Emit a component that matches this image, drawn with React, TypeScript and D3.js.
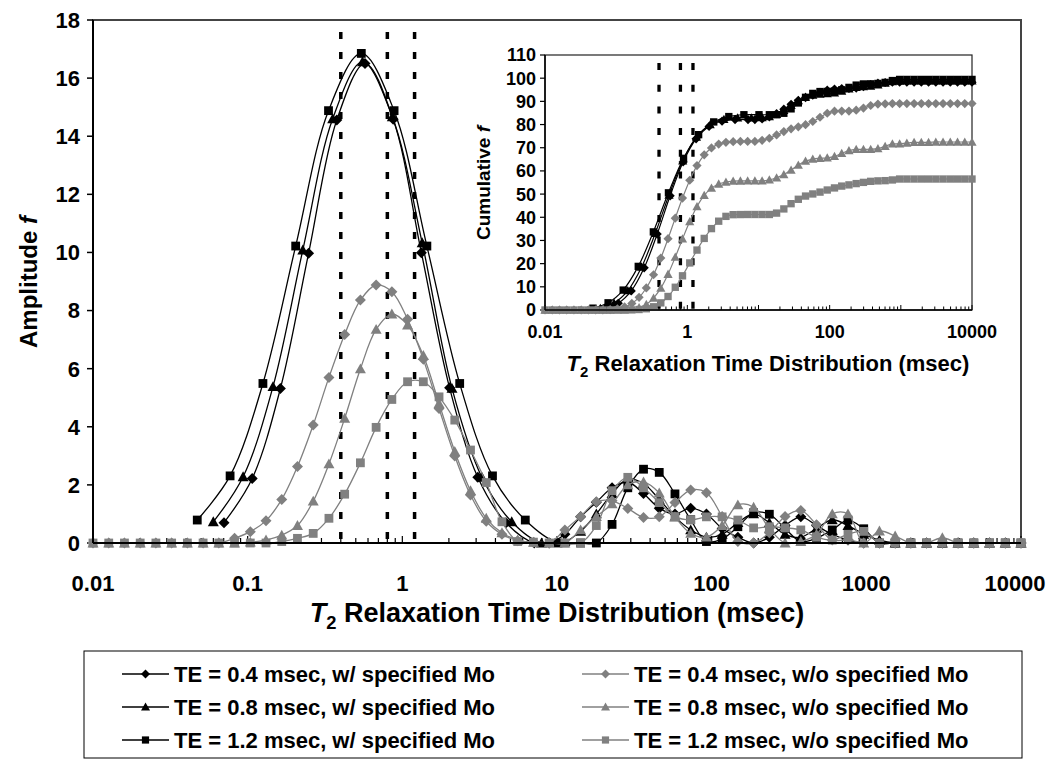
import React from 'react';
import * as d3 from 'd3';

// ---------- DATA ----------
// Common log-spaced T2 grid (msec), 60 bins from 0.01 to 10000
const T_GRID = [0.01, 0.01264, 0.01597, 0.02019, 0.02551, 0.03225, 0.04075, 0.05151, 0.0651, 0.08228,
  0.104, 0.1314, 0.1661, 0.2099, 0.2653, 0.3353, 0.4238, 0.5356, 0.6769, 0.8555,
  1.081, 1.367, 1.727, 2.183, 2.759, 3.487, 4.407, 5.57, 7.04, 8.897,
  11.24, 14.21, 17.96, 22.7, 28.69, 36.26, 45.82, 57.91, 73.19, 92.5,
  116.9, 147.7, 186.7, 236, 298.3, 377, 476.4, 602.1, 761, 961.8,
  1215, 1536, 1941, 2454, 3101, 3919, 4953, 6260, 7912, 10000];

// w/o specified Mo (gray), values on T_GRID
const GRAY_DIAMOND = [0, 0, 0, 0, 0, 0, 0, 0, 0,
  0.16, 0.39, 0.77, 1.5, 2.63, 4.06, 5.7, 7.18, 8.36, 8.88,
  8.65, 7.7, 6.32, 4.63, 2.99, 1.65, 0.75, 0.3, 0.08, 0.03,
  0, 0.45, 0.91, 1.42, 1.45, 1.19, 0.88, 0.9, 1.39, 1.82,
  1.73, 0.91, 0.05, 0, 0.35, 0.91, 1.12, 0.63, 0.1, 0.11,
  0, 0, 0, 0, 0, 0, 0, 0, 0, 0, 0];
const GRAY_TRIANGLE = [0, 0, 0, 0, 0, 0, 0, 0, 0, 0,
  0.03, 0.1, 0.27, 0.6, 1.44, 2.72, 4.29, 5.99, 7.35, 7.88,
  7.5, 6.45, 4.8, 3.15, 1.8, 0.85, 0.35, 0.1, 0.02, 0,
  0, 0.45, 0.91, 1.35, 2.0, 2.1, 1.72, 0.9, 0.33, 0.2,
  0.6, 1.31, 1.23, 0.5, 0, 0.05, 0.3, 1.0, 1.0, 0,
  0.41, 0.24, 0, 0, 0.18, 0, 0, 0, 0, 0];
const GRAY_SQUARE = [0, 0, 0, 0, 0, 0, 0, 0, 0, 0, 0, 0,
  0.05, 0.16, 0.33, 0.85, 1.68, 2.76, 3.98, 4.94,
  5.55, 5.55, 5.03, 4.23, 3.2, 2.08, 0.73, 0.05, 0.03, 0,
  0, 0, 0.6, 1.8, 2.26, 1.9, 1.39, 0.91, 0.8, 0.9,
  0.9, 0.79, 0.52, 0.56, 0.52, 0.45, 0.2, 0.1, 0.3, 0.4,
  0, 0, 0, 0, 0, 0, 0, 0, 0, 0];

// w/ specified Mo (black): main peak on their own T2 points, then the tail on T_GRID
const BLACK_DIAMOND_T = [0.0703, 0.107, 0.1628, 0.2477, 0.377, 0.5737, 0.8727, 1.328, 2.021, 3.075, 4.68, 7.12];
const BLACK_DIAMOND_V = [0.7, 2.22, 5.32, 9.97, 14.56, 16.5, 14.58, 9.99, 5.34, 2.26, 0.7, 0];
const BLACK_DIAMOND_TAIL_START = 29;
const BLACK_DIAMOND_TAIL = [0, 0.3, 0.9, 1.4, 1.9, 2.1, 1.7, 1.2, 1.0, 1.2,
  1.0, 0.5, 0.2, 0, 0.2, 0.6, 0.9, 0.6, 0.3, 0.1,
  0, 0, 0, 0, 0, 0, 0, 0, 0, 0, 0];

const BLACK_TRIANGLE_T = [0.05995, 0.09344, 0.1458, 0.2272, 0.3546, 0.5527, 0.8612, 1.344, 2.095, 3.268, 5.095, 7.938];
const BLACK_TRIANGLE_V = [0.73, 2.28, 5.38, 10.08, 14.6, 16.56, 14.67, 10.33, 5.32, 2.26, 0.73, 0];
const BLACK_TRIANGLE_TAIL_START = 30;
const BLACK_TRIANGLE_TAIL = [0.05, 0.4, 1.0, 1.7, 2.2, 2.05, 1.5, 0.9, 0.45, 0.2,
  0.3, 0.7, 1.0, 0.7, 0.3, 0.2, 0.5, 0.8, 0.6, 0.3,
  0.1, 0, 0, 0, 0, 0, 0, 0, 0, 0];

const BLACK_SQUARE_T = [0.04722, 0.07699, 0.1255, 0.2044, 0.3332, 0.543, 0.8845, 1.441, 2.349, 3.827, 6.237, 10.16];
const BLACK_SQUARE_V = [0.79, 2.31, 5.49, 10.22, 14.88, 16.85, 14.88, 10.22, 5.49, 2.31, 0.79, 0];
const BLACK_SQUARE_TAIL_START = 31;
const BLACK_SQUARE_TAIL = [0, 0, 0.64, 1.9, 2.54, 2.43, 1.69, 0.8, 0.05, 0.14,
  0.56, 1.04, 0.99, 0.5, 0.05, 0.17, 0.45, 0.79, 0.49,
  0, 0, 0, 0, 0, 0, 0, 0, 0, 0];

const TE_LINES = [0.4, 0.8, 1.2];

const MAIN_X_TICKS = [0.01, 0.1, 1, 10, 100, 1000, 10000];
const MAIN_X_LABELS = ['0.01', '0.1', '1', '10', '100', '1000', '10000'];
const MAIN_Y_TICKS = [0, 2, 4, 6, 8, 10, 12, 14, 16, 18];
const INSET_X_TICKS = [0.01, 1, 100, 10000];
const INSET_X_LABELS = ['0.01', '1', '100', '10000'];
const INSET_Y_TICKS = [0, 10, 20, 30, 40, 50, 60, 70, 80, 90, 100, 110];

const LEGEND_LABELS = [
  'TE = 0.4 msec, w/ specified Mo',
  'TE = 0.8 msec, w/ specified Mo',
  'TE = 1.2 msec, w/ specified Mo',
  'TE = 0.4 msec, w/o specified Mo',
  'TE = 0.8 msec, w/o specified Mo',
  'TE = 1.2 msec, w/o specified Mo',
];

// ---------- SETUP ----------
type Marker = 'diamond' | 'triangle' | 'square';
type Series = { t: number[]; v: number[]; color: string; marker: Marker; label: string };

const BLACK = '#000000';
const GRAY = '#808080';
const FONT = '"Liberation Sans", Arial, Helvetica, sans-serif';

const SERIES: Series[] = [
  { t: [...BLACK_DIAMOND_T, ...T_GRID.slice(BLACK_DIAMOND_TAIL_START)], v: [...BLACK_DIAMOND_V, ...BLACK_DIAMOND_TAIL], color: BLACK, marker: 'diamond', label: LEGEND_LABELS[0] },
  { t: [...BLACK_TRIANGLE_T, ...T_GRID.slice(BLACK_TRIANGLE_TAIL_START)], v: [...BLACK_TRIANGLE_V, ...BLACK_TRIANGLE_TAIL], color: BLACK, marker: 'triangle', label: LEGEND_LABELS[1] },
  { t: [...BLACK_SQUARE_T, ...T_GRID.slice(BLACK_SQUARE_TAIL_START)], v: [...BLACK_SQUARE_V, ...BLACK_SQUARE_TAIL], color: BLACK, marker: 'square', label: LEGEND_LABELS[2] },
  { t: T_GRID, v: GRAY_DIAMOND, color: GRAY, marker: 'diamond', label: LEGEND_LABELS[3] },
  { t: T_GRID, v: GRAY_TRIANGLE, color: GRAY, marker: 'triangle', label: LEGEND_LABELS[4] },
  { t: T_GRID, v: GRAY_SQUARE, color: GRAY, marker: 'square', label: LEGEND_LABELS[5] },
];

function markerPath(m: Marker, s: number): string {
  if (m === 'diamond') return `M0,${-s}L${s},0L0,${s}L${-s},0Z`;
  if (m === 'triangle') return `M0,${-s}L${s},${s * 0.8}L${-s},${s * 0.8}Z`;
  const q = s * 0.8;
  return `M${-q},${-q}H${q}V${q}H${-q}Z`;
}

const MAIN = { left: 93, right: 1021, top: 20, bottom: 543 };
const INSET = { left: 545, right: 972, top: 55, bottom: 310 };

const x = d3.scaleLog().domain([0.01, 10000]).range([MAIN.left, MAIN.right]);
const y = d3.scaleLinear().domain([0, 18]).range([MAIN.bottom, MAIN.top]);
const xi = d3.scaleLog().domain([0.01, 10000]).range([INSET.left, INSET.right]);
const yi = d3.scaleLinear().domain([0, 110]).range([INSET.bottom, INSET.top]);

const isDecade = (v: number) => Math.abs(Math.log10(v) - Math.round(Math.log10(v))) < 1e-6;

function SeriesLayer({ sx, sy, cumulative, size }: { sx: any; sy: any; cumulative: boolean; size: number }) {
  return (
    <g>
      {SERIES.map((s, si) => {
        const vals = cumulative ? Array.from(d3.cumsum(s.v)) : s.v;
        const pts = s.t.map((t, i) => [t, vals[i]] as [number, number]);
        const line = d3.line<[number, number]>()
          .x(d => sx(d[0]))
          .y(d => sy(d[1]))
          .curve(d3.curveCatmullRom.alpha(0.5));
        const mp = markerPath(s.marker, size);
        return (
          <g key={si}>
            <path d={line(pts) || ''} fill="none" stroke={s.color} strokeWidth={cumulative ? 1.2 : 1.3} />
            {pts.map((p, i) => (
              <path key={i} d={mp} transform={`translate(${sx(p[0])},${sy(p[1])})`} fill={s.color} />
            ))}
          </g>
        );
      })}
    </g>
  );
}

function T2Title({ cx, cy, size }: { cx: number; cy: number; size: number }) {
  return (
    <text x={cx} y={cy} textAnchor="middle" fontFamily={FONT} fontWeight="bold" fontSize={size}>
      <tspan fontStyle="italic">T</tspan>
      <tspan fontSize={size * 0.68} dy={size * 0.25}>2</tspan>
      <tspan dy={-size * 0.25}> Relaxation Time Distribution (msec)</tspan>
    </text>
  );
}

export default function App() {
  const mainTicks = x.ticks();
  const insetTicks = xi.ticks();
  return (
    <svg width={1051} height={759} style={{ position: 'absolute', left: 0, top: 0, background: '#fff' }}>
      <rect x={0} y={0} width={1051} height={759} fill="#fff" />

      {/* main plot frame */}
      <rect x={MAIN.left} y={MAIN.top} width={MAIN.right - MAIN.left} height={MAIN.bottom - MAIN.top}
        fill="none" stroke="#444" strokeWidth={2} />

      {/* TE dashed lines */}
      {TE_LINES.map((te, i) => (
        <line key={i} x1={x(te)} x2={x(te)} y1={32} y2={MAIN.bottom} stroke={BLACK} strokeWidth={3.5} strokeDasharray="7,13" />
      ))}

      {/* main x ticks (inward) */}
      {mainTicks.map((t, i) => (
        <line key={i} x1={x(t)} x2={x(t)} y1={MAIN.bottom} y2={MAIN.bottom - (isDecade(t) ? 7 : 5)} stroke={BLACK} strokeWidth={1.2} />
      ))}
      {/* main y ticks (outward) */}
      {MAIN_Y_TICKS.map((t, i) => (
        <line key={i} x1={MAIN.left - 6} x2={MAIN.left} y1={y(t)} y2={y(t)} stroke={BLACK} strokeWidth={1.5} />
      ))}

      <SeriesLayer sx={x} sy={y} cumulative={false} size={5.5} />

      {/* axes lines */}
      <line x1={MAIN.left} x2={MAIN.left} y1={MAIN.top} y2={MAIN.bottom} stroke={BLACK} strokeWidth={2} />
      <line x1={MAIN.left} x2={MAIN.right} y1={MAIN.bottom} y2={MAIN.bottom} stroke={BLACK} strokeWidth={2} />

      {/* main tick labels */}
      {MAIN_Y_TICKS.map((t, i) => (
        <text key={i} x={80} y={y(t)} dy="0.36em" textAnchor="end" fontFamily={FONT} fontWeight="bold" fontSize={22}>{t}</text>
      ))}
      {MAIN_X_TICKS.map((t, i) => (
        <text key={i} x={i === MAIN_X_TICKS.length - 1 ? x(t) - 6 : x(t)} y={591} textAnchor="middle" fontFamily={FONT} fontWeight="bold" fontSize={22}>{MAIN_X_LABELS[i]}</text>
      ))}
      <T2Title cx={557} cy={622} size={27} />
      <text transform="translate(37,282) rotate(-90)" textAnchor="middle" fontFamily={FONT} fontWeight="bold" fontSize={24}>
        Amplitude <tspan fontStyle="italic">f</tspan>
      </text>

      {/* ---------- inset ---------- */}
      <rect x={INSET.left} y={INSET.top} width={INSET.right - INSET.left} height={INSET.bottom - INSET.top}
        fill="#fff" stroke="#222" strokeWidth={1.2} />
      {TE_LINES.map((te, i) => (
        <line key={i} x1={xi(te)} x2={xi(te)} y1={63} y2={INSET.bottom} stroke={BLACK} strokeWidth={3.3} strokeDasharray="7,14.7" />
      ))}
      {insetTicks.map((t, i) => (
        <line key={i} x1={xi(t)} x2={xi(t)} y1={INSET.bottom} y2={INSET.bottom - (isDecade(t) ? 5 : 3.5)} stroke={BLACK} strokeWidth={1} />
      ))}
      {INSET_Y_TICKS.map((t, i) => (
        <line key={i} x1={INSET.left - 5} x2={INSET.left} y1={yi(t)} y2={yi(t)} stroke={BLACK} strokeWidth={1.2} />
      ))}
      <SeriesLayer sx={xi} sy={yi} cumulative={true} size={4.6} />
      <line x1={INSET.left} x2={INSET.left} y1={INSET.top} y2={INSET.bottom} stroke={BLACK} strokeWidth={1.5} />
      <line x1={INSET.left} x2={INSET.right} y1={INSET.bottom} y2={INSET.bottom} stroke={BLACK} strokeWidth={1.5} />
      {INSET_Y_TICKS.map((t, i) => (
        <text key={i} x={536} y={yi(t)} dy="0.36em" textAnchor="end" fontFamily={FONT} fontWeight="bold" fontSize={18}>{t}</text>
      ))}
      {INSET_X_TICKS.map((t, i) => (
        <text key={i} x={xi(t)} y={338} textAnchor="middle" fontFamily={FONT} fontWeight="bold" fontSize={18}>{INSET_X_LABELS[i]}</text>
      ))}
      <T2Title cx={768} cy={371} size={22} />
      <text transform="translate(490,183) rotate(-90)" textAnchor="middle" fontFamily={FONT} fontWeight="bold" fontSize={19}>
        Cumulative <tspan fontStyle="italic">f</tspan>
      </text>

      {/* ---------- legend ---------- */}
      <rect x={84} y={651} width={938} height={107} fill="#fff" stroke={BLACK} strokeWidth={1} />
      {SERIES.map((s, i) => {
        const col = Math.floor(i / 3);
        const row = i % 3;
        const lx = col === 0 ? 122 : 582;
        const ly = 674 + row * 33;
        return (
          <g key={i}>
            <line x1={lx} x2={lx + 47} y1={ly} y2={ly} stroke={s.color} strokeWidth={1.3} />
            <path d={markerPath(s.marker, 4.5)} transform={`translate(${lx + 23.5},${ly})`} fill={s.color} />
            <text x={lx + 52} y={ly} dy="0.36em" fontFamily={FONT} fontWeight="bold" fontSize={22}>{s.label}</text>
          </g>
        );
      })}
    </svg>
  );
}
